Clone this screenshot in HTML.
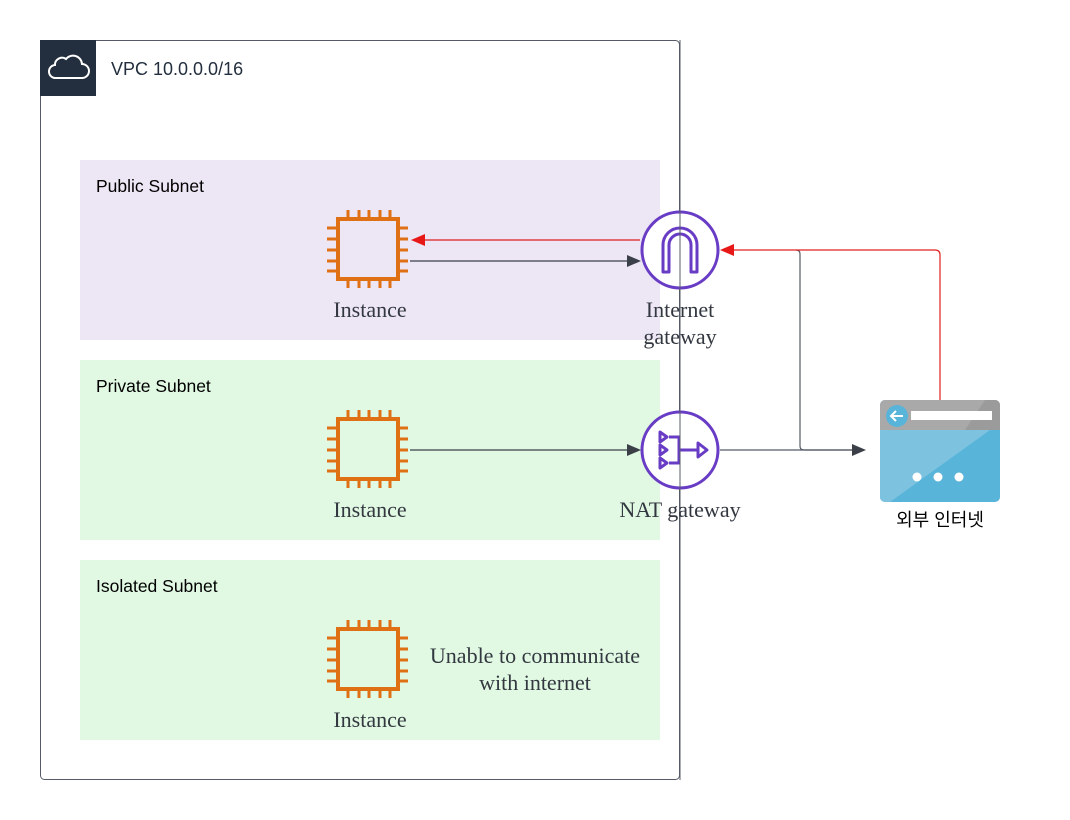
<!DOCTYPE html>
<html><head><meta charset="utf-8"><style>
html,body{margin:0;padding:0;background:#fff;width:1070px;height:820px;overflow:hidden}
svg{display:block}
.s{font-family:"Liberation Sans",sans-serif;font-size:17.5px;fill:#000}
.l{font-family:"Liberation Serif",serif;font-size:22px;fill:#333840}
</style></head><body>
<svg width="1070" height="820" viewBox="0 0 1070 820" xmlns="http://www.w3.org/2000/svg">
<defs>
<g id="chip">
<rect x="3" y="3" width="60" height="60" fill="none" stroke="#e07014" stroke-width="4"/>
<g stroke="#e07014" stroke-width="3">
<path d="M13 -6V3M24 -6V3M34 -6V3M45 -6V3M55 -6V3"/>
<path d="M13 63V72M24 63V72M34 63V72M45 63V72M55 63V72"/>
<path d="M-8 12H3M-8 23H3M-8 34H3M-8 45H3M-8 55H3"/>
<path d="M63 12H73M63 23H73M63 34H73M63 45H73M63 55H73"/>
</g>
</g>
</defs>
<rect x="40.5" y="40.5" width="639" height="739" rx="4" fill="#fff" stroke="#555b66" stroke-width="1"/>
<rect x="40" y="40" width="56" height="56" fill="#232f3e"/>
<path d="M56 78 h26 a7 7 0 0 0 0-14 a9 9 0 0 0-16-5 a7 7 0 0 0-11 6 a6 6 0 0 0 1 13z" fill="none" stroke="#fff" stroke-width="2"/>
<text x="111" y="75" class="s" style="fill:#232f3e;font-size:18px">VPC 10.0.0.0/16</text>

<rect x="80" y="160" width="580" height="180" fill="#ede6f4"/>
<rect x="80" y="360" width="580" height="180" fill="#e1f9e3"/>
<rect x="80" y="560" width="580" height="180" fill="#e1f9e3"/>
<text x="96" y="192" class="s">Public Subnet</text>
<text x="96" y="392" class="s">Private Subnet</text>
<text x="96" y="592" class="s">Isolated Subnet</text>

<use href="#chip" x="335" y="216"/>
<use href="#chip" x="335" y="416"/>
<use href="#chip" x="335" y="626"/>
<text x="370" y="317" class="l" text-anchor="middle">Instance</text>
<text x="370" y="517" class="l" text-anchor="middle">Instance</text>
<text x="370" y="727" class="l" text-anchor="middle">Instance</text>
<text x="535" y="663" class="l" text-anchor="middle">Unable to communicate</text>
<text x="535" y="690" class="l" text-anchor="middle">with internet</text>

<path d="M410 261H628" stroke="#3b4048" stroke-width="1.2" fill="none"/>
<path d="M641 261l-14-6v12z" fill="#3b4048"/>
<path d="M410 450H628" stroke="#3b4048" stroke-width="1.2" fill="none"/>
<path d="M641 450l-14-6v12z" fill="#3b4048"/>
<path d="M640 240H424" stroke="#e02020" stroke-width="1.2" fill="none"/>
<path d="M411 240l14-6v12z" fill="#e81818"/>
<path d="M720 450H852" stroke="#555b66" stroke-width="1.2" fill="none"/>
<path d="M796 250q4 0 4 4V446q0 4 4 4H852" stroke="#555b66" stroke-width="1.2" fill="none"/>
<path d="M866 450l-14-6v12z" fill="#3b4048"/>
<path d="M940 400V255q0-5-5-5H733" stroke="#e02020" stroke-width="1.2" fill="none"/>
<path d="M720 250l14-6v12z" fill="#e81818"/>

<circle cx="680" cy="250" r="38" fill="#fff" stroke="#693cc5" stroke-width="3"/>
<path d="M663 272V245a17 17 0 0 1 34 0V272h-6V245a11 11 0 0 0-22 0V272z" fill="none" stroke="#693cc5" stroke-width="3" stroke-linejoin="round"/>
<circle cx="680" cy="450" r="38" fill="#fff" stroke="#693cc5" stroke-width="3"/>
<g fill="none" stroke="#693cc5" stroke-width="3" stroke-linejoin="round">
<path d="M660 432l7 5-7 5zM660 445l7 5-7 5zM660 458l7 5-7 5z"/>
<path d="M669 437h10v26h-10M679 450h19"/>
<path d="M698 443l9 7-9 7z"/>
</g>
<line x1="680" y1="40" x2="680" y2="780" stroke="#555b66" stroke-width="1"/>
<text x="680" y="317" class="l" text-anchor="middle">Internet</text>
<text x="680" y="344" class="l" text-anchor="middle">gateway</text>
<text x="680" y="517" class="l" text-anchor="middle">NAT gateway</text>

<rect x="880" y="400" width="120" height="102" rx="5" fill="#59b4d9"/>
<path d="M880 430h110L890 502h-5a5 5 0 0 1-5-5z" fill="#7dc3e0"/>
<path d="M885 400h110a5 5 0 0 1 5 5v25H880v-25a5 5 0 0 1 5-5z" fill="#a9a9a9"/>
<path d="M985 400h10a5 5 0 0 1 5 5v25H965z" fill="#9b9b9b"/>
<circle cx="897" cy="416" r="11" fill="#59b4d9"/>
<path d="M903 416h-12M896 411l-5 5 5 5" stroke="#fff" stroke-width="2" fill="none"/>
<rect x="911" y="411" width="81" height="9" fill="#fff"/>
<circle cx="917" cy="477" r="4.5" fill="#fff"/>
<circle cx="938" cy="477" r="4.5" fill="#fff"/>
<circle cx="959" cy="477" r="4.5" fill="#fff"/>
<text x="940" y="526" class="s" text-anchor="middle" style="font-family:'Liberation Sans','Noto Sans CJK KR',sans-serif;font-size:18px">외부 인터넷</text>
</svg>
</body></html>
